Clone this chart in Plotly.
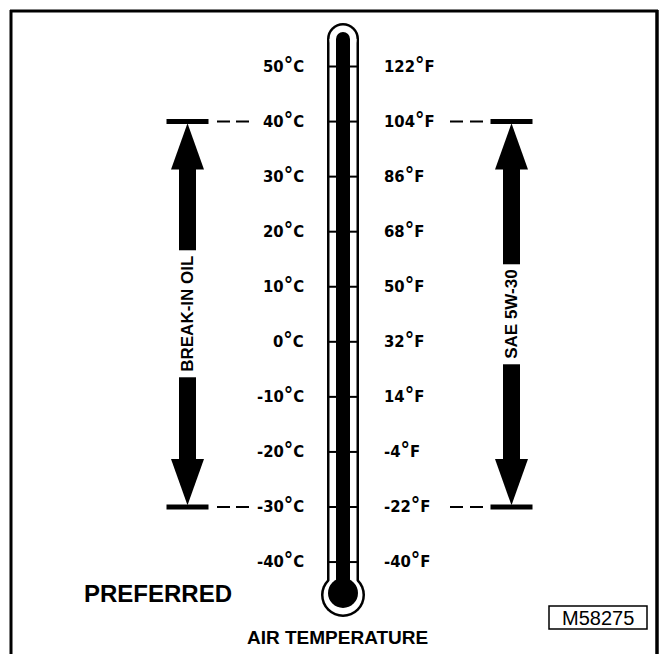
import plotly.graph_objects as go

# ---- data ----
celsius = [50, 40, 30, 20, 10, 0, -10, -20, -30, -40]
fahrenheit = [122, 104, 86, 68, 50, 32, 14, -4, -22, -40]
DEG = "<span style='font-size:21px'>°</span>"
celsius_labels = [f"{c}{DEG}C" for c in celsius]
fahrenheit_labels = [f"{f}{DEG}F" for f in fahrenheit]
break_in_range = [40, -30]     # °C
sae_range = [40, -30]          # °C
left_text = "BREAK-IN OIL"
right_text = "SAE 5W-30"

W, H = 662, 654
Y_TOP, Y_BOT = 62.08, -56.70
ppd = H / (Y_TOP - Y_BOT)  # px per degree

shapes = []
annotations = []

def pshape(**kw):
    d = dict(xref="x", yref="y2", layer="above")
    d.update(kw)
    shapes.append(d)

# frame
pshape(type="line", x0=11, x1=11, y0=10, y1=660, line=dict(color="black", width=3))
pshape(type="line", x0=10, x1=658, y0=11, y1=11, line=dict(color="black", width=3))
pshape(type="line", x0=657, x1=657, y0=10, y1=660, line=dict(color="black", width=3.5))

# thermometer outer (black union)
CX = 343
pshape(type="circle", x0=CX-22, x1=CX+22, y0=595-22, y1=595+22, fillcolor="black", line=dict(width=0))
pshape(type="rect", x0=CX-16, x1=CX+16, y0=39, y1=590, fillcolor="black", line=dict(width=0))
pshape(type="circle", x0=CX-16, x1=CX+16, y0=39-16, y1=39+16, fillcolor="black", line=dict(width=0))
# inner white union
pshape(type="circle", x0=CX-19.5, x1=CX+19.5, y0=595-19.5, y1=595+19.5, fillcolor="white", line=dict(width=0))
pshape(type="rect", x0=CX-13.5, x1=CX+13.5, y0=39, y1=590, fillcolor="white", line=dict(width=0))
pshape(type="circle", x0=CX-13.5, x1=CX+13.5, y0=39-13.5, y1=39+13.5, fillcolor="white", line=dict(width=0))

# ticks (data)
for c in celsius:
    shapes.append(dict(type="line", xref="x", yref="y", x0=CX-15, x1=CX+15, y0=c, y1=c,
                       line=dict(color="black", width=2), layer="above"))

# black column
pshape(type="rect", x0=CX-7, x1=CX+7, y0=39, y1=590, fillcolor="black", line=dict(width=0))
pshape(type="circle", x0=CX-7, x1=CX+7, y0=39-7, y1=39+7, fillcolor="black", line=dict(width=0))
pshape(type="circle", x0=CX-15, x1=CX+15, y0=593-15, y1=593+15, fillcolor="black", line=dict(width=0))

# labels
lab_font = dict(family="DejaVu Sans Condensed, Liberation Sans Narrow, Arial Narrow, sans-serif",
                size=16.5, color="black", weight="bold")
for c, lab in zip(celsius, celsius_labels):
    annotations.append(dict(x=306, y=c, xref="x", yref="y", text=lab, showarrow=False,
                            xanchor="right", yanchor="middle", yshift=2, font=lab_font))
for c, lab in zip(celsius, fahrenheit_labels):
    annotations.append(dict(x=382, y=c, xref="x", yref="y", text=lab, showarrow=False,
                            xanchor="left", yanchor="middle", yshift=2, font=lab_font))

def arrow(xc, rng, text, dash_x0, dash_x1, dash):
    ct, cb = rng
    head = 48 / ppd
    for c in (ct, cb):
        shapes.append(dict(type="line", xref="x", yref="y", x0=xc-21, x1=xc+21, y0=c, y1=c,
                           line=dict(color="black", width=5), layer="above"))
        shapes.append(dict(type="line", xref="x", yref="y", x0=dash_x0, x1=dash_x1, y0=c, y1=c,
                           line=dict(color="black", width=2, dash=dash), layer="above"))
    shapes.append(dict(type="path", xref="x", yref="y", layer="above",
                       path=f"M {xc-16.5},{ct-head} L {xc},{ct-0.3} L {xc+16.5},{ct-head} Z",
                       fillcolor="black", line=dict(width=0)))
    shapes.append(dict(type="path", xref="x", yref="y", layer="above",
                       path=f"M {xc-16.5},{cb+head} L {xc},{cb+0.3} L {xc+16.5},{cb+head} Z",
                       fillcolor="black", line=dict(width=0)))
    shapes.append(dict(type="rect", xref="x", yref="y", layer="above",
                       x0=xc-8.5, x1=xc+8.5, y0=cb+head-0.2, y1=ct-head+0.2,
                       fillcolor="black", line=dict(width=0)))
    annotations.append(dict(x=xc, y=(ct+cb)/2, xref="x", yref="y", text=text, showarrow=False,
                            textangle=-90, bgcolor="white", borderpad=5,
                            font=dict(family="Liberation Sans, Arial, sans-serif", size=17,
                                      color="black", weight="bold")))

arrow(187.5, break_in_range, left_text, 217, 250, "13px,6px")
arrow(511.5, sae_range, right_text, 450, 484, "13px,7px")

# texts
annotations.append(dict(x=82, y=593, xref="x", yref="y2", text="PREFERRED", showarrow=False,
                        xanchor="left", yanchor="middle",
                        font=dict(family="Liberation Sans, Arial, sans-serif", size=24,
                                  color="black", weight="bold")))
annotations.append(dict(x=337, y=637, xref="x", yref="y2", text="AIR TEMPERATURE", showarrow=False,
                        xanchor="center", yanchor="middle",
                        font=dict(family="Liberation Sans, Arial, sans-serif", size=19,
                                  color="black", weight="bold")))
pshape(type="rect", x0=549, x1=647, y0=606, y1=629, line=dict(color="black", width=1.5),
       fillcolor="white")
annotations.append(dict(x=598, y=618, xref="x", yref="y2", text="M58275", showarrow=False,
                        xanchor="center", yanchor="middle",
                        font=dict(family="Liberation Sans, Arial, sans-serif", size=20,
                                  color="black")))

fig = go.Figure()
fig.add_trace(go.Scatter(x=[0], y=[0], mode="markers", marker=dict(opacity=0),
                         hoverinfo="skip", showlegend=False))
fig.update_layout(
    width=W, height=H, margin=dict(l=0, r=0, t=0, b=0),
    paper_bgcolor="white", plot_bgcolor="white",
    xaxis=dict(range=[0, W], visible=False, fixedrange=True),
    yaxis=dict(range=[Y_BOT, Y_TOP], visible=False, fixedrange=True),
    yaxis2=dict(range=[H, 0], visible=False, overlaying="y", fixedrange=True),
    shapes=shapes, annotations=annotations, showlegend=False,
)
fig.write_html("out.html", config={"displayModeBar": False},
               post_script="document.body.style.margin='0';")
